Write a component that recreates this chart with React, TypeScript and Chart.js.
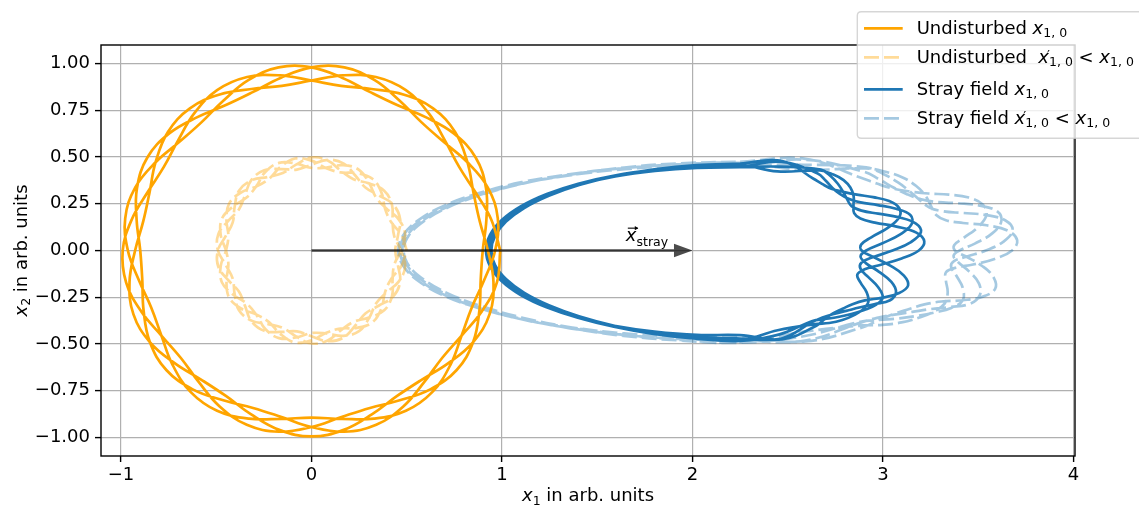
import React, { useEffect, useRef } from "react";
import { Chart, registerables } from "chart.js";

Chart.register(...registerables);

// ---------------- axes ----------------
const X_TICKS = [-1, 0, 1, 2, 3, 4];
const Y_TICKS = [-1, -0.75, -0.5, -0.25, 0, 0.25, 0.5, 0.75, 1];
const X_MIN = -1.105;
const X_MAX = 4.008;
const Y_MIN = -1.1;
const Y_MAX = 1.1;

// ---------------- undisturbed orbits (polar: radius per angle, 4 consecutive revolutions) ----------------
const ANGLES_DEG = [0, 10, 20, 30, 40, 50, 60, 70, 80, 90, 100, 110, 120, 130, 140, 150, 160, 170, 180, 190, 200, 210, 220, 230, 240, 250, 260, 270, 280, 290, 300, 310, 320, 330, 340, 350];

const UNDISTURBED_R = [
  [0.991, 0.958, 0.915, 0.895, 0.915, 0.958, 0.991, 0.988, 0.952, 0.910, 0.895, 0.920, 0.964, 0.993, 0.985, 0.945, 0.905, 0.897, 0.926, 0.970, 0.995, 0.980, 0.938, 0.902, 0.899, 0.932, 0.975, 0.995, 0.975, 0.932, 0.899, 0.902, 0.938, 0.980, 0.995, 0.970],
  [0.926, 0.897, 0.905, 0.945, 0.985, 0.993, 0.964, 0.920, 0.895, 0.910, 0.952, 0.988, 0.991, 0.958, 0.915, 0.895, 0.915, 0.958, 0.991, 0.988, 0.952, 0.910, 0.895, 0.920, 0.964, 0.993, 0.985, 0.945, 0.905, 0.897, 0.926, 0.970, 0.995, 0.980, 0.938, 0.902],
  [0.899, 0.932, 0.975, 0.995, 0.975, 0.932, 0.899, 0.902, 0.938, 0.980, 0.995, 0.970, 0.926, 0.897, 0.905, 0.945, 0.985, 0.993, 0.964, 0.920, 0.895, 0.910, 0.952, 0.988, 0.991, 0.958, 0.915, 0.895, 0.915, 0.958, 0.991, 0.988, 0.952, 0.910, 0.895, 0.920],
  [0.964, 0.993, 0.985, 0.945, 0.905, 0.897, 0.926, 0.970, 0.995, 0.980, 0.938, 0.902, 0.899, 0.932, 0.975, 0.995, 0.975, 0.932, 0.899, 0.902, 0.938, 0.980, 0.995, 0.970, 0.926, 0.897, 0.905, 0.945, 0.985, 0.993, 0.964, 0.920, 0.895, 0.910, 0.952, 0.988],
];

const UNDISTURBED_SMALL_R = [
  [0.500, 0.479, 0.445, 0.446, 0.480, 0.500, 0.478, 0.445, 0.447, 0.481, 0.500, 0.476, 0.444, 0.448, 0.483, 0.500, 0.475, 0.443, 0.449, 0.484, 0.500, 0.474, 0.443, 0.450, 0.485, 0.499, 0.473, 0.442, 0.451, 0.486, 0.499, 0.471, 0.442, 0.452, 0.487, 0.499],
  [0.470, 0.441, 0.453, 0.488, 0.498, 0.469, 0.441, 0.454, 0.489, 0.498, 0.467, 0.441, 0.455, 0.490, 0.497, 0.466, 0.440, 0.456, 0.491, 0.497, 0.465, 0.440, 0.457, 0.492, 0.496, 0.464, 0.440, 0.459, 0.493, 0.495, 0.462, 0.440, 0.460, 0.494, 0.495, 0.461],
  [0.440, 0.461, 0.495, 0.494, 0.460, 0.440, 0.462, 0.495, 0.493, 0.459, 0.440, 0.464, 0.496, 0.492, 0.457, 0.440, 0.465, 0.497, 0.491, 0.456, 0.440, 0.466, 0.497, 0.490, 0.455, 0.441, 0.467, 0.498, 0.489, 0.454, 0.441, 0.469, 0.498, 0.488, 0.453, 0.441],
  [0.470, 0.499, 0.487, 0.452, 0.442, 0.471, 0.499, 0.486, 0.451, 0.442, 0.473, 0.499, 0.485, 0.450, 0.443, 0.474, 0.500, 0.484, 0.449, 0.443, 0.475, 0.500, 0.483, 0.448, 0.444, 0.476, 0.500, 0.481, 0.447, 0.445, 0.478, 0.500, 0.480, 0.446, 0.445, 0.479],
];

// ---------------- stray-field orbits (mean loop + per-revolution offsets) ----------------
const STRAY_LOOP_X = [2.25, 2.457, 2.65, 2.709, 2.764, 2.816, 2.863, 2.905, 2.943, 2.975, 3.002, 3.023, 3.038, 3.047, 3.05, 3.047, 3.038, 3.023, 3.002, 2.975, 2.943, 2.905, 2.863, 2.816, 2.764, 2.709, 2.65, 2.457, 2.25, 2.021, 1.799, 1.59, 1.401, 1.239, 1.107, 1.009, 0.95, 0.93, 0.95, 1.009, 1.107, 1.239, 1.401, 1.59, 1.799, 2.021];
const STRAY_LOOP_Y = [0.465, 0.449, 0.403, 0.381, 0.356, 0.329, 0.299, 0.267, 0.233, 0.197, 0.159, 0.12, 0.081, 0.04, 0, -0.04, -0.081, -0.12, -0.159, -0.197, -0.233, -0.267, -0.299, -0.329, -0.356, -0.381, -0.403, -0.449, -0.465, -0.458, -0.437, -0.403, -0.356, -0.299, -0.233, -0.159, -0.081, 0, 0.081, 0.159, 0.233, 0.299, 0.356, 0.403, 0.437, 0.458];

const STRAY_SMALL_LOOP_X = [2.25, 2.584, 2.895, 2.99, 3.079, 3.162, 3.238, 3.307, 3.367, 3.419, 3.463, 3.496, 3.521, 3.535, 3.54, 3.535, 3.521, 3.496, 3.463, 3.419, 3.367, 3.307, 3.238, 3.162, 3.079, 2.99, 2.895, 2.584, 2.25, 1.94, 1.641, 1.36, 1.105, 0.887, 0.709, 0.577, 0.497, 0.47, 0.497, 0.577, 0.709, 0.887, 1.105, 1.36, 1.641, 1.94];
const STRAY_SMALL_LOOP_Y = [0.475, 0.459, 0.411, 0.389, 0.364, 0.336, 0.305, 0.273, 0.238, 0.201, 0.162, 0.123, 0.083, 0.041, 0, -0.041, -0.083, -0.123, -0.162, -0.201, -0.238, -0.273, -0.305, -0.336, -0.364, -0.389, -0.411, -0.459, -0.475, -0.468, -0.447, -0.411, -0.364, -0.305, -0.238, -0.162, -0.083, 0, 0.083, 0.162, 0.238, 0.305, 0.364, 0.411, 0.447, 0.468];

// one row per revolution
const STRAND_OFFSETS = [
  [0, 0.033, -0.024, -0.038, -0.043, -0.029, 0, 0.047, 0.095, 0.114, 0.085, 0, -0.1, -0.162, -0.162, -0.097, 0, 0.088, 0.133, 0.114, 0.059, 0, -0.026, -0.033, -0.033, -0.021, 0, 0.029, -0.012, -0.006, -0.003, 0, 0.004, 0.007, 0.01, 0.012, 0.013, 0.014, 0.013, 0.011, 0.008, 0.005, 0.002, -0.002, -0.006, -0.009],
  [-0.016, 0.028, 0.012, -0.012, -0.036, -0.05, -0.049, -0.025, 0.031, 0.097, 0.145, 0.129, 0.053, -0.053, -0.138, -0.165, -0.129, -0.046, 0.043, 0.097, 0.1, 0.053, 0.014, -0.011, -0.028, -0.035, -0.028, 0.024, 0.006, 0.005, 0.005, 0.005, 0.005, 0.005, 0.005, 0.005, 0.005, 0.005, 0.004, 0.003, 0.001, -0.002, -0.005, -0.008, -0.012, -0.016],
  [-0.019, 0, 0.038, 0.024, 0, -0.029, -0.057, -0.076, -0.059, 0, 0.085, 0.152, 0.162, 0.1, 0, -0.097, -0.152, -0.143, -0.082, 0, 0.059, 0.062, 0.043, 0.021, 0, -0.021, -0.033, 0, 0.019, 0.014, 0.01, 0.006, 0.003, 0, -0.003, -0.005, -0.006, -0.006, -0.006, -0.006, -0.006, -0.006, -0.006, -0.006, -0.006, -0.006],
  [-0.006, -0.028, 0.032, 0.04, 0.036, 0.015, -0.019, -0.065, -0.1, -0.097, -0.045, 0.049, 0.138, 0.17, 0.138, 0.051, -0.049, -0.121, -0.14, -0.097, -0.031, 0.02, 0.036, 0.035, 0.028, 0.011, -0.011, -0.024, 0.016, 0.011, 0.005, 0, -0.005, -0.009, -0.012, -0.014, -0.014, -0.014, -0.014, -0.013, -0.011, -0.009, -0.007, -0.005, -0.003, -0.001],
];

// ---------------- arrow ----------------
const ARROW_FROM = { x: 0, y: 0 };
const ARROW_TO = { x: 2, y: 0 };
const ARROW_LABEL_AT = { x: 1.65, y: 0.05 };

// ---------------- styling ----------------
const ORANGE = "#ffa500";
const ORANGE_LIGHT = "rgba(255,165,0,0.4)";
const BLUE = "#1f77b4";
const BLUE_LIGHT = "rgba(31,119,180,0.4)";
const DASH = [15, 5];
const LW = 2.7;
const FAMILY = '"DejaVu Sans"';

type Pt = { x: number; y: number };

function polarPath(loops: number[][]): Pt[] {
  const pts: Pt[] = [];
  loops.forEach((loop) =>
    loop.forEach((r, i) => {
      const a = (ANGLES_DEG[i] * Math.PI) / 180;
      pts.push({ x: r * Math.cos(a), y: r * Math.sin(a) });
    })
  );
  pts.push({ ...pts[0] });
  return pts;
}

// offsets applied along the loop's outward normal, flattened towards the horizontal
function strandPath(cx: number[], cy: number[], offsets: number[][]): Pt[] {
  const n = cx.length;
  const pts: Pt[] = [];
  offsets.forEach((off) => {
    for (let i = 0; i < n; i++) {
      const p = (i - 1 + n) % n;
      const q = (i + 1) % n;
      const tx = cx[q] - cx[p];
      const ty = cy[q] - cy[p];
      const nx = -ty;
      const ny = tx * 0.35;
      const len = Math.hypot(nx, ny) || 1;
      pts.push({ x: cx[i] + (nx / len) * off[i], y: cy[i] + (ny / len) * off[i] });
    }
  });
  pts.push({ ...pts[0] });
  return pts;
}

type Run = { t: string; size?: number; it?: boolean; dy?: number; dx?: number; keep?: boolean };

function fontOf(size: number, it?: boolean) {
  return `${it ? "italic " : ""}${size}px ${FAMILY}`;
}

function runsWidth(ctx: CanvasRenderingContext2D, runs: Run[]) {
  let w = 0;
  for (const r of runs) {
    ctx.font = fontOf(r.size ?? 18, r.it);
    if (!r.keep) w += ctx.measureText(r.t).width + (r.dx ?? 0);
  }
  return w;
}

function drawRuns(ctx: CanvasRenderingContext2D, runs: Run[], x: number, y: number) {
  let cx = x;
  for (const r of runs) {
    ctx.font = fontOf(r.size ?? 18, r.it);
    ctx.fillText(r.t, cx + (r.dx ?? 0), y + (r.dy ?? 0));
    if (!r.keep) cx += ctx.measureText(r.t).width + (r.dx ?? 0);
  }
  return cx;
}

const SUB = 12.5;
const SUB_DY = 3.5;
const xSub = (s: string): Run[] => [
  { t: "x", it: true },
  { t: s, size: SUB, dy: SUB_DY },
];
const xPrimeSub = (s: string): Run[] => [
  { t: "x", it: true },
  { t: "\u2032", size: 13, dy: -3.5, dx: -2, keep: true },
  { t: s, size: SUB, dy: SUB_DY },
];

const LEGEND_ITEMS: { color: string; dash: number[]; runs: Run[] }[] = [
  { color: ORANGE, dash: [], runs: [{ t: "Undisturbed " }, ...xSub("1, 0")] },
  { color: ORANGE_LIGHT, dash: DASH, runs: [{ t: "Undisturbed  " }, ...xPrimeSub("1, 0"), { t: " < " }, ...xSub("1, 0")] },
  { color: BLUE, dash: [], runs: [{ t: "Stray field " }, ...xSub("1, 0")] },
  { color: BLUE_LIGHT, dash: DASH, runs: [{ t: "Stray field " }, ...xPrimeSub("1, 0"), { t: " < " }, ...xSub("1, 0")] },
];

const decorPlugin = {
  id: "decor",
  afterDatasetsDraw(chart: any) {
    const { ctx, chartArea: a, scales } = chart;
    const xs = scales.x;
    const ys = scales.y;
    // arrow
    const x0 = xs.getPixelForValue(ARROW_FROM.x);
    const y0 = ys.getPixelForValue(ARROW_FROM.y);
    const x1 = xs.getPixelForValue(ARROW_TO.x);
    const headL = 18.5;
    const headW = 6.8;
    const shaft = 1.25;
    ctx.save();
    ctx.fillStyle = "rgba(0,0,0,0.7)";
    ctx.beginPath();
    ctx.moveTo(x0, y0 - shaft);
    ctx.lineTo(x1 - headL, y0 - shaft);
    ctx.lineTo(x1 - headL, y0 - headW);
    ctx.lineTo(x1, y0);
    ctx.lineTo(x1 - headL, y0 + headW);
    ctx.lineTo(x1 - headL, y0 + shaft);
    ctx.lineTo(x0, y0 + shaft);
    ctx.closePath();
    ctx.fill();
    // arrow label
    const lx = xs.getPixelForValue(ARROW_LABEL_AT.x);
    const ly = ys.getPixelForValue(ARROW_LABEL_AT.y);
    ctx.fillStyle = "#000";
    ctx.textBaseline = "alphabetic";
    ctx.textAlign = "left";
    drawRuns(ctx, [{ t: "x", it: true }, { t: "stray", size: SUB, dy: SUB_DY + 1 }], lx, ly);
    ctx.strokeStyle = "#000";
    ctx.lineWidth = 1.1;
    ctx.beginPath();
    ctx.moveTo(lx + 2, ly - 13);
    ctx.lineTo(lx + 12, ly - 13);
    ctx.stroke();
    ctx.beginPath();
    ctx.moveTo(lx + 12.5, ly - 13);
    ctx.lineTo(lx + 9, ly - 15.2);
    ctx.lineTo(lx + 9, ly - 10.8);
    ctx.closePath();
    ctx.fill();
    // frame
    ctx.strokeStyle = "#000";
    ctx.lineWidth = 1.4;
    ctx.strokeRect(a.left, a.top, a.right - a.left, a.bottom - a.top);
    ctx.restore();
  },
  afterDraw(chart: any) {
    const { ctx, chartArea: a } = chart;
    ctx.save();
    ctx.fillStyle = "#000";
    ctx.textBaseline = "alphabetic";
    ctx.textAlign = "left";
    // x axis title
    const xt: Run[] = [...xSub("1"), { t: " in arb. units" }];
    const xw = runsWidth(ctx, xt);
    drawRuns(ctx, xt, (a.left + a.right) / 2 - xw / 2, 501);
    // y axis title
    const yt: Run[] = [...xSub("2"), { t: " in arb. units" }];
    const yw = runsWidth(ctx, yt);
    ctx.save();
    ctx.translate(26.5, (a.top + a.bottom) / 2);
    ctx.rotate(-Math.PI / 2);
    drawRuns(ctx, yt, -yw / 2, 0);
    ctx.restore();

    // legend
    const bx = 857.3;
    const by = 11.7;
    const bw = 320;
    const bh = 126.6;
    const rad = 4;
    ctx.beginPath();
    ctx.moveTo(bx + rad, by);
    ctx.lineTo(bx + bw, by);
    ctx.lineTo(bx + bw, by + bh);
    ctx.lineTo(bx + rad, by + bh);
    ctx.quadraticCurveTo(bx, by + bh, bx, by + bh - rad);
    ctx.lineTo(bx, by + rad);
    ctx.quadraticCurveTo(bx, by, bx + rad, by);
    ctx.closePath();
    ctx.fillStyle = "rgba(255,255,255,0.8)";
    ctx.fill();
    ctx.strokeStyle = "rgba(204,204,204,0.8)";
    ctx.lineWidth = 1.4;
    ctx.stroke();
    const rows = [28.3, 57.3, 89.3, 118.3];
    LEGEND_ITEMS.forEach((it, i) => {
      const ry = rows[i];
      ctx.strokeStyle = it.color;
      ctx.lineWidth = LW;
      ctx.setLineDash(it.dash);
      ctx.beginPath();
      ctx.moveTo(864, ry);
      ctx.lineTo(902.7, ry);
      ctx.stroke();
      ctx.setLineDash([]);
      ctx.fillStyle = "#000";
      drawRuns(ctx, it.runs, 916.7, ry + 5.5);
    });
    ctx.restore();
  },
};

function fmtY(v: number) {
  return (v < 0 ? "\u2212" : "") + Math.abs(v).toFixed(2);
}
function fmtX(v: number) {
  return (v < 0 ? "\u2212" : "") + Math.abs(v).toFixed(0);
}

export default function App() {
  const ref = useRef<HTMLCanvasElement | null>(null);

  useEffect(() => {
    if (!ref.current) return;
    Chart.defaults.font.family = FAMILY;
    const line = (data: Pt[], color: string, dash: number[]) => ({
      data,
      showLine: true,
      borderColor: color,
      backgroundColor: color,
      borderWidth: LW,
      borderDash: dash,
      pointRadius: 0,
      pointHoverRadius: 0,
      tension: 0.4,
      fill: false,
    });
    const chart = new Chart(ref.current, {
      type: "scatter",
      data: {
        datasets: [
          line(polarPath(UNDISTURBED_R), ORANGE, []),
          line(polarPath(UNDISTURBED_SMALL_R), ORANGE_LIGHT, DASH),
          line(strandPath(STRAY_LOOP_X, STRAY_LOOP_Y, STRAND_OFFSETS), BLUE, []),
          line(strandPath(STRAY_SMALL_LOOP_X, STRAY_SMALL_LOOP_Y, STRAND_OFFSETS), BLUE_LIGHT, DASH),
        ] as any,
      },
      options: {
        responsive: false,
        animation: false,
        devicePixelRatio: 1,
        events: [],
        layout: { padding: { left: 0, right: 64, top: 45, bottom: 0 } },
        plugins: { legend: { display: false }, tooltip: { enabled: false } },
        scales: {
          x: {
            type: "linear",
            min: X_MIN,
            max: X_MAX,
            afterBuildTicks: (s: any) => {
              s.ticks = X_TICKS.map((v) => ({ value: v }));
            },
            afterFit: (s: any) => {
              s.height = 52;
            },
            grid: { color: "#b0b0b0", lineWidth: 1.2, tickColor: "#000", tickLength: 6, tickWidth: 1.4 },
            border: { display: false },
            ticks: {
              color: "#000",
              font: { size: 18, family: FAMILY },
              padding: 3,
              maxRotation: 0,
              autoSkip: false,
              callback: (v: any) => fmtX(Number(v)),
            },
          },
          y: {
            type: "linear",
            min: Y_MIN,
            max: Y_MAX,
            afterBuildTicks: (s: any) => {
              s.ticks = Y_TICKS.map((v) => ({ value: v }));
            },
            afterFit: (s: any) => {
              s.width = 101;
            },
            grid: { color: "#b0b0b0", lineWidth: 1.2, tickColor: "#000", tickLength: 6, tickWidth: 1.4 },
            border: { display: false },
            ticks: {
              color: "#000",
              font: { size: 18, family: FAMILY },
              padding: 5,
              autoSkip: false,
              callback: (v: any) => fmtY(Number(v)),
            },
          },
        },
      },
      plugins: [decorPlugin],
    } as any);
    return () => chart.destroy();
  }, []);

  return (
    <div style={{ position: "fixed", left: 0, top: 0, width: 1139, height: 508, background: "#fff" }}>
      <canvas ref={ref} width={1139} height={508} style={{ width: 1139, height: 508, display: "block" }} />
    </div>
  );
}
